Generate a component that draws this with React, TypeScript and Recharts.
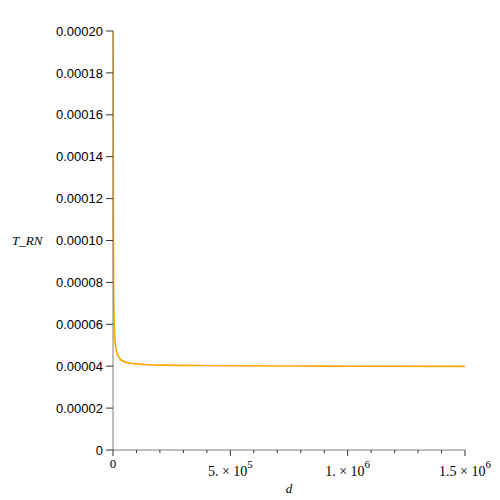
import React from 'react';
import { LineChart, Line, XAxis, YAxis } from 'recharts';

const dValues = [
  500, 700, 1000, 1500, 2000, 3000, 4000, 5000, 7000, 10000, 15000, 20000,
  30000, 40000, 60000, 80000, 100000, 150000, 200000, 300000, 500000,
  800000, 1000000, 1500000,
];
const tValues = [
  0.00025, 0.00019, 0.000146, 0.000111, 0.000093, 0.000075, 0.0000665,
  0.0000612, 0.0000551, 0.0000506, 0.0000471, 0.0000453, 0.0000435,
  0.0000426, 0.0000418, 0.0000413, 0.0000411, 0.0000407, 0.0000405,
  0.0000404, 0.0000402, 0.0000401, 0.00004, 0.0000399,
];

const xTicks = [
  0, 100000, 200000, 300000, 400000, 500000, 600000, 700000, 800000, 900000,
  1000000, 1100000, 1200000, 1300000, 1400000, 1500000,
];
const xMajor = [
  { value: 0, mantissa: '0', exp: '' },
  { value: 500000, mantissa: '5.', exp: '5' },
  { value: 1000000, mantissa: '1.', exp: '6' },
  { value: 1500000, mantissa: '1.5', exp: '6' },
];
const yTicks = [
  0, 0.00002, 0.00004, 0.00006, 0.00008, 0.0001, 0.00012, 0.00014, 0.00016,
  0.00018, 0.0002,
];
const yTickLabels = [
  '0', '0.00002', '0.00004', '0.00006', '0.00008', '0.00010', '0.00012',
  '0.00014', '0.00016', '0.00018', '0.00020',
];

const data = dValues.map((d, i) => ({ d, t: tValues[i] }));

const serif = '"Liberation Serif", "Times New Roman", serif';

function XTick(props: any) {
  const { x, y, payload } = props;
  const major = xMajor.find((m) => m.value === payload.value);
  return (
    <g>
      <line x1={x} x2={x} y1={y} y2={y + (major ? 6 : 3)} stroke="#333" />
      {major && major.exp === '' && (
        <text x={x} y={y + 18} textAnchor="middle" fontFamily={serif} fontSize={13} fill="#000">
          {major.mantissa}
        </text>
      )}
      {major && major.exp !== '' && (
        <text x={x} y={y + 26} textAnchor="middle" fontFamily={serif} fontSize={14} fill="#000">
          {major.mantissa} × 10
          <tspan dy={-8} fontSize={11}>{major.exp}</tspan>
        </text>
      )}
    </g>
  );
}

export default function App() {
  return (
    <div style={{ position: 'absolute', left: 0, top: 0, width: 500, height: 500, background: '#fff' }}>
      <LineChart
        width={500}
        height={500}
        data={data}
        margin={{ top: 31, right: 35, bottom: 0, left: 0 }}
      >
        <XAxis
          dataKey="d"
          type="number"
          domain={[0, 1500000]}
          ticks={xTicks}
          interval={0}
          height={50}
          tickSize={0}
          tickMargin={0}
          tickLine={false}
          tick={<XTick />}
          stroke="#808080"
          label={{ value: 'd', position: 'insideBottom', offset: 7, style: { fontFamily: serif, fontStyle: 'italic', fontSize: 13, fill: '#000' } }}
        />
        <YAxis
          type="number"
          domain={[0, 0.0002]}
          allowDataOverflow
          ticks={yTicks}
          interval={0}
          width={113}
          tickSize={7}
          tickMargin={3}
          stroke="#808080"
          tickLine={{ stroke: '#333' }}
          tick={{ fill: '#000', fontSize: 13, fontFamily: '"Liberation Sans", Arial, sans-serif' }}
          tickFormatter={(v: number) => yTickLabels[yTicks.indexOf(v)] ?? String(v)}
          label={{ value: 'T_RN', position: 'insideLeft', offset: 12, style: { fontFamily: serif, fontStyle: 'italic', fontSize: 13, fill: '#000', textAnchor: 'start' } }}
        />
        <Line
          dataKey="t"
          type="monotone"
          stroke="#FFA500"
          strokeWidth={1.6}
          dot={false}
          isAnimationActive={false}
        />
      </LineChart>
    </div>
  );
}
